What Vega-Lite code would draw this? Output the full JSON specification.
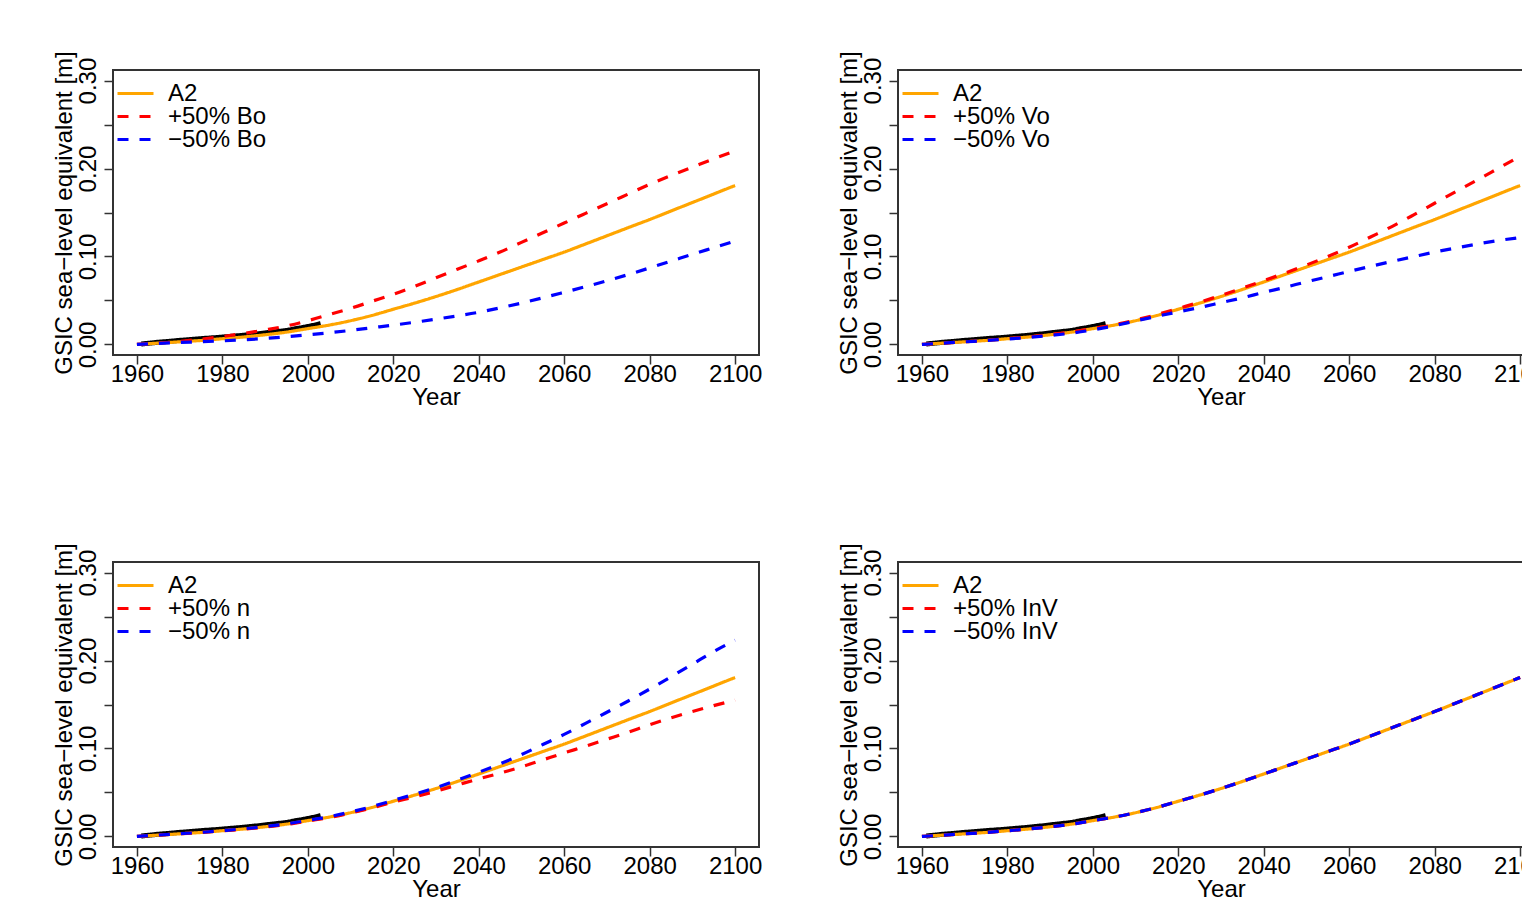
{
  "$schema": "https://vega.github.io/schema/vega-lite/v6.json",
  "background": "white",
  "padding": {"left": 50, "top": 49, "right": 0, "bottom": 0},
  "datasets": {
    "obs": [
      {"year": 1961, "v": 0.0005}, {"year": 1963, "v": 0.0015}, {"year": 1965, "v": 0.0025}, {"year": 1967, "v": 0.0033},
      {"year": 1969, "v": 0.0042}, {"year": 1971, "v": 0.005}, {"year": 1973, "v": 0.0058}, {"year": 1975, "v": 0.0066},
      {"year": 1977, "v": 0.0073}, {"year": 1979, "v": 0.008}, {"year": 1981, "v": 0.0088}, {"year": 1983, "v": 0.0096},
      {"year": 1985, "v": 0.0105}, {"year": 1987, "v": 0.0115}, {"year": 1989, "v": 0.0125}, {"year": 1991, "v": 0.0137},
      {"year": 1993, "v": 0.0148}, {"year": 1995, "v": 0.016}, {"year": 1997, "v": 0.0178}, {"year": 1999, "v": 0.0195},
      {"year": 2001, "v": 0.0215}, {"year": 2003, "v": 0.0237}
    ],
    "a2": [
      {"year": 1960, "v": 0, "s": "A2"}, {"year": 1965, "v": 0.0015, "s": "A2"}, {"year": 1970, "v": 0.003, "s": "A2"},
      {"year": 1975, "v": 0.0045, "s": "A2"}, {"year": 1980, "v": 0.0065, "s": "A2"}, {"year": 1985, "v": 0.0085, "s": "A2"},
      {"year": 1990, "v": 0.011, "s": "A2"}, {"year": 1995, "v": 0.014, "s": "A2"}, {"year": 2000, "v": 0.018, "s": "A2"},
      {"year": 2005, "v": 0.022, "s": "A2"}, {"year": 2010, "v": 0.027, "s": "A2"}, {"year": 2015, "v": 0.033, "s": "A2"},
      {"year": 2020, "v": 0.04, "s": "A2"}, {"year": 2025, "v": 0.047, "s": "A2"}, {"year": 2030, "v": 0.0545, "s": "A2"},
      {"year": 2035, "v": 0.0625, "s": "A2"}, {"year": 2040, "v": 0.071, "s": "A2"}, {"year": 2045, "v": 0.0795, "s": "A2"},
      {"year": 2050, "v": 0.088, "s": "A2"}, {"year": 2055, "v": 0.0965, "s": "A2"}, {"year": 2060, "v": 0.105, "s": "A2"},
      {"year": 2065, "v": 0.1142, "s": "A2"}, {"year": 2070, "v": 0.1235, "s": "A2"}, {"year": 2075, "v": 0.1328, "s": "A2"},
      {"year": 2080, "v": 0.142, "s": "A2"}, {"year": 2085, "v": 0.1517, "s": "A2"}, {"year": 2090, "v": 0.1613, "s": "A2"},
      {"year": 2095, "v": 0.171, "s": "A2"}, {"year": 2100, "v": 0.1807, "s": "A2"}
    ],
    "bo": [
      {"year": 1960, "v": 0, "s": "+50% Bo"}, {"year": 1965, "v": 0.0015, "s": "+50% Bo"}, {"year": 1970, "v": 0.0035, "s": "+50% Bo"},
      {"year": 1975, "v": 0.006, "s": "+50% Bo"}, {"year": 1980, "v": 0.009, "s": "+50% Bo"}, {"year": 1985, "v": 0.0125, "s": "+50% Bo"},
      {"year": 1990, "v": 0.0165, "s": "+50% Bo"}, {"year": 1995, "v": 0.021, "s": "+50% Bo"}, {"year": 2000, "v": 0.027, "s": "+50% Bo"},
      {"year": 2005, "v": 0.034, "s": "+50% Bo"}, {"year": 2010, "v": 0.041, "s": "+50% Bo"}, {"year": 2015, "v": 0.049, "s": "+50% Bo"},
      {"year": 2020, "v": 0.057, "s": "+50% Bo"}, {"year": 2025, "v": 0.066, "s": "+50% Bo"}, {"year": 2030, "v": 0.0757, "s": "+50% Bo"},
      {"year": 2035, "v": 0.0855, "s": "+50% Bo"}, {"year": 2040, "v": 0.095, "s": "+50% Bo"}, {"year": 2045, "v": 0.105, "s": "+50% Bo"},
      {"year": 2050, "v": 0.116, "s": "+50% Bo"}, {"year": 2055, "v": 0.127, "s": "+50% Bo"}, {"year": 2060, "v": 0.138, "s": "+50% Bo"},
      {"year": 2065, "v": 0.149, "s": "+50% Bo"}, {"year": 2070, "v": 0.16, "s": "+50% Bo"}, {"year": 2075, "v": 0.171, "s": "+50% Bo"},
      {"year": 2080, "v": 0.182, "s": "+50% Bo"}, {"year": 2085, "v": 0.192, "s": "+50% Bo"}, {"year": 2090, "v": 0.2015, "s": "+50% Bo"},
      {"year": 2095, "v": 0.211, "s": "+50% Bo"}, {"year": 2100, "v": 0.22, "s": "+50% Bo"},
      {"year": 1960, "v": 0, "s": "−50% Bo"}, {"year": 1965, "v": 0.0012, "s": "−50% Bo"}, {"year": 1970, "v": 0.0022, "s": "−50% Bo"},
      {"year": 1975, "v": 0.0031, "s": "−50% Bo"}, {"year": 1980, "v": 0.0041, "s": "−50% Bo"}, {"year": 1985, "v": 0.0053, "s": "−50% Bo"},
      {"year": 1990, "v": 0.0068, "s": "−50% Bo"}, {"year": 1995, "v": 0.0088, "s": "−50% Bo"}, {"year": 2000, "v": 0.011, "s": "−50% Bo"},
      {"year": 2005, "v": 0.0133, "s": "−50% Bo"}, {"year": 2010, "v": 0.016, "s": "−50% Bo"}, {"year": 2015, "v": 0.019, "s": "−50% Bo"},
      {"year": 2020, "v": 0.022, "s": "−50% Bo"}, {"year": 2025, "v": 0.0252, "s": "−50% Bo"}, {"year": 2030, "v": 0.0287, "s": "−50% Bo"},
      {"year": 2035, "v": 0.0325, "s": "−50% Bo"}, {"year": 2040, "v": 0.0366, "s": "−50% Bo"}, {"year": 2045, "v": 0.0416, "s": "−50% Bo"},
      {"year": 2050, "v": 0.047, "s": "−50% Bo"}, {"year": 2055, "v": 0.053, "s": "−50% Bo"}, {"year": 2060, "v": 0.0593, "s": "−50% Bo"},
      {"year": 2065, "v": 0.0657, "s": "−50% Bo"}, {"year": 2070, "v": 0.0724, "s": "−50% Bo"}, {"year": 2075, "v": 0.0795, "s": "−50% Bo"},
      {"year": 2080, "v": 0.087, "s": "−50% Bo"}, {"year": 2085, "v": 0.0947, "s": "−50% Bo"}, {"year": 2090, "v": 0.1025, "s": "−50% Bo"},
      {"year": 2095, "v": 0.11, "s": "−50% Bo"}, {"year": 2100, "v": 0.1175, "s": "−50% Bo"}
    ],
    "vo": [
      {"year": 1960, "v": 0, "s": "+50% Vo"}, {"year": 1965, "v": 0.0015, "s": "+50% Vo"}, {"year": 1970, "v": 0.003, "s": "+50% Vo"},
      {"year": 1975, "v": 0.0046, "s": "+50% Vo"}, {"year": 1980, "v": 0.0066, "s": "+50% Vo"}, {"year": 1985, "v": 0.0087, "s": "+50% Vo"},
      {"year": 1990, "v": 0.0112, "s": "+50% Vo"}, {"year": 1995, "v": 0.0142, "s": "+50% Vo"}, {"year": 2000, "v": 0.0182, "s": "+50% Vo"},
      {"year": 2005, "v": 0.0223, "s": "+50% Vo"}, {"year": 2010, "v": 0.0278, "s": "+50% Vo"}, {"year": 2015, "v": 0.034, "s": "+50% Vo"},
      {"year": 2020, "v": 0.041, "s": "+50% Vo"}, {"year": 2025, "v": 0.048, "s": "+50% Vo"}, {"year": 2030, "v": 0.0558, "s": "+50% Vo"},
      {"year": 2035, "v": 0.064, "s": "+50% Vo"}, {"year": 2040, "v": 0.0725, "s": "+50% Vo"}, {"year": 2045, "v": 0.0812, "s": "+50% Vo"},
      {"year": 2050, "v": 0.0903, "s": "+50% Vo"}, {"year": 2055, "v": 0.1, "s": "+50% Vo"}, {"year": 2060, "v": 0.1105, "s": "+50% Vo"},
      {"year": 2065, "v": 0.1222, "s": "+50% Vo"}, {"year": 2070, "v": 0.134, "s": "+50% Vo"}, {"year": 2075, "v": 0.147, "s": "+50% Vo"},
      {"year": 2080, "v": 0.1605, "s": "+50% Vo"}, {"year": 2085, "v": 0.1738, "s": "+50% Vo"}, {"year": 2090, "v": 0.187, "s": "+50% Vo"},
      {"year": 2095, "v": 0.2005, "s": "+50% Vo"}, {"year": 2100, "v": 0.214, "s": "+50% Vo"},
      {"year": 1960, "v": 0, "s": "−50% Vo"}, {"year": 1965, "v": 0.0015, "s": "−50% Vo"}, {"year": 1970, "v": 0.003, "s": "−50% Vo"},
      {"year": 1975, "v": 0.0044, "s": "−50% Vo"}, {"year": 1980, "v": 0.0062, "s": "−50% Vo"}, {"year": 1985, "v": 0.008, "s": "−50% Vo"},
      {"year": 1990, "v": 0.0103, "s": "−50% Vo"}, {"year": 1995, "v": 0.0128, "s": "−50% Vo"}, {"year": 2000, "v": 0.0165, "s": "−50% Vo"},
      {"year": 2005, "v": 0.0212, "s": "−50% Vo"}, {"year": 2010, "v": 0.0267, "s": "−50% Vo"}, {"year": 2015, "v": 0.032, "s": "−50% Vo"},
      {"year": 2020, "v": 0.037, "s": "−50% Vo"}, {"year": 2025, "v": 0.042, "s": "−50% Vo"}, {"year": 2030, "v": 0.0475, "s": "−50% Vo"},
      {"year": 2035, "v": 0.053, "s": "−50% Vo"}, {"year": 2040, "v": 0.0592, "s": "−50% Vo"}, {"year": 2045, "v": 0.065, "s": "−50% Vo"},
      {"year": 2050, "v": 0.0712, "s": "−50% Vo"}, {"year": 2055, "v": 0.077, "s": "−50% Vo"}, {"year": 2060, "v": 0.083, "s": "−50% Vo"},
      {"year": 2065, "v": 0.0888, "s": "−50% Vo"}, {"year": 2070, "v": 0.0943, "s": "−50% Vo"}, {"year": 2075, "v": 0.0997, "s": "−50% Vo"},
      {"year": 2080, "v": 0.105, "s": "−50% Vo"}, {"year": 2085, "v": 0.1097, "s": "−50% Vo"}, {"year": 2090, "v": 0.1142, "s": "−50% Vo"},
      {"year": 2095, "v": 0.1182, "s": "−50% Vo"}, {"year": 2100, "v": 0.1215, "s": "−50% Vo"}
    ],
    "n": [
      {"year": 1960, "v": 0, "s": "+50% n"}, {"year": 1965, "v": 0.0015, "s": "+50% n"}, {"year": 1970, "v": 0.003, "s": "+50% n"},
      {"year": 1975, "v": 0.0045, "s": "+50% n"}, {"year": 1980, "v": 0.0064, "s": "+50% n"}, {"year": 1985, "v": 0.0083, "s": "+50% n"},
      {"year": 1990, "v": 0.0107, "s": "+50% n"}, {"year": 1995, "v": 0.0136, "s": "+50% n"}, {"year": 2000, "v": 0.0175, "s": "+50% n"},
      {"year": 2005, "v": 0.0215, "s": "+50% n"}, {"year": 2010, "v": 0.0265, "s": "+50% n"}, {"year": 2015, "v": 0.0325, "s": "+50% n"},
      {"year": 2020, "v": 0.039, "s": "+50% n"}, {"year": 2025, "v": 0.045, "s": "+50% n"}, {"year": 2030, "v": 0.0515, "s": "+50% n"},
      {"year": 2035, "v": 0.0585, "s": "+50% n"}, {"year": 2040, "v": 0.0655, "s": "+50% n"}, {"year": 2045, "v": 0.072, "s": "+50% n"},
      {"year": 2050, "v": 0.079, "s": "+50% n"}, {"year": 2055, "v": 0.087, "s": "+50% n"}, {"year": 2060, "v": 0.095, "s": "+50% n"},
      {"year": 2065, "v": 0.1025, "s": "+50% n"}, {"year": 2070, "v": 0.1105, "s": "+50% n"}, {"year": 2075, "v": 0.1185, "s": "+50% n"},
      {"year": 2080, "v": 0.127, "s": "+50% n"}, {"year": 2085, "v": 0.1348, "s": "+50% n"}, {"year": 2090, "v": 0.142, "s": "+50% n"},
      {"year": 2095, "v": 0.1487, "s": "+50% n"}, {"year": 2100, "v": 0.155, "s": "+50% n"},
      {"year": 1960, "v": 0, "s": "−50% n"}, {"year": 1965, "v": 0.0016, "s": "−50% n"}, {"year": 1970, "v": 0.0031, "s": "−50% n"},
      {"year": 1975, "v": 0.0046, "s": "−50% n"}, {"year": 1980, "v": 0.0066, "s": "−50% n"}, {"year": 1985, "v": 0.0087, "s": "−50% n"},
      {"year": 1990, "v": 0.0113, "s": "−50% n"}, {"year": 1995, "v": 0.0143, "s": "−50% n"}, {"year": 2000, "v": 0.0183, "s": "−50% n"},
      {"year": 2005, "v": 0.0225, "s": "−50% n"}, {"year": 2010, "v": 0.0278, "s": "−50% n"}, {"year": 2015, "v": 0.034, "s": "−50% n"},
      {"year": 2020, "v": 0.041, "s": "−50% n"}, {"year": 2025, "v": 0.048, "s": "−50% n"}, {"year": 2030, "v": 0.0555, "s": "−50% n"},
      {"year": 2035, "v": 0.064, "s": "−50% n"}, {"year": 2040, "v": 0.073, "s": "−50% n"}, {"year": 2045, "v": 0.0825, "s": "−50% n"},
      {"year": 2050, "v": 0.093, "s": "−50% n"}, {"year": 2055, "v": 0.1045, "s": "−50% n"}, {"year": 2060, "v": 0.116, "s": "−50% n"},
      {"year": 2065, "v": 0.1285, "s": "−50% n"}, {"year": 2070, "v": 0.1412, "s": "−50% n"}, {"year": 2075, "v": 0.154, "s": "−50% n"},
      {"year": 2080, "v": 0.1675, "s": "−50% n"}, {"year": 2085, "v": 0.1815, "s": "−50% n"}, {"year": 2090, "v": 0.1958, "s": "−50% n"},
      {"year": 2095, "v": 0.2102, "s": "−50% n"}, {"year": 2100, "v": 0.223, "s": "−50% n"}
    ],
    "inv": [
      {"year": 1960, "v": 0, "s": "+50% InV"}, {"year": 1965, "v": 0.0015, "s": "+50% InV"}, {"year": 1970, "v": 0.003, "s": "+50% InV"},
      {"year": 1975, "v": 0.0045, "s": "+50% InV"}, {"year": 1980, "v": 0.0065, "s": "+50% InV"}, {"year": 1985, "v": 0.0085, "s": "+50% InV"},
      {"year": 1990, "v": 0.011, "s": "+50% InV"}, {"year": 1995, "v": 0.014, "s": "+50% InV"}, {"year": 2000, "v": 0.018, "s": "+50% InV"},
      {"year": 2005, "v": 0.022, "s": "+50% InV"}, {"year": 2010, "v": 0.027, "s": "+50% InV"}, {"year": 2015, "v": 0.033, "s": "+50% InV"},
      {"year": 2020, "v": 0.04, "s": "+50% InV"}, {"year": 2025, "v": 0.047, "s": "+50% InV"}, {"year": 2030, "v": 0.0545, "s": "+50% InV"},
      {"year": 2035, "v": 0.0625, "s": "+50% InV"}, {"year": 2040, "v": 0.071, "s": "+50% InV"}, {"year": 2045, "v": 0.0795, "s": "+50% InV"},
      {"year": 2050, "v": 0.088, "s": "+50% InV"}, {"year": 2055, "v": 0.0965, "s": "+50% InV"}, {"year": 2060, "v": 0.105, "s": "+50% InV"},
      {"year": 2065, "v": 0.1142, "s": "+50% InV"}, {"year": 2070, "v": 0.1235, "s": "+50% InV"}, {"year": 2075, "v": 0.1328, "s": "+50% InV"},
      {"year": 2080, "v": 0.142, "s": "+50% InV"}, {"year": 2085, "v": 0.1517, "s": "+50% InV"}, {"year": 2090, "v": 0.1613, "s": "+50% InV"},
      {"year": 2095, "v": 0.171, "s": "+50% InV"}, {"year": 2100, "v": 0.1807, "s": "+50% InV"},
      {"year": 1960, "v": 0, "s": "−50% InV"}, {"year": 1965, "v": 0.0015, "s": "−50% InV"}, {"year": 1970, "v": 0.003, "s": "−50% InV"},
      {"year": 1975, "v": 0.0045, "s": "−50% InV"}, {"year": 1980, "v": 0.0065, "s": "−50% InV"}, {"year": 1985, "v": 0.0085, "s": "−50% InV"},
      {"year": 1990, "v": 0.011, "s": "−50% InV"}, {"year": 1995, "v": 0.014, "s": "−50% InV"}, {"year": 2000, "v": 0.018, "s": "−50% InV"},
      {"year": 2005, "v": 0.022, "s": "−50% InV"}, {"year": 2010, "v": 0.027, "s": "−50% InV"}, {"year": 2015, "v": 0.033, "s": "−50% InV"},
      {"year": 2020, "v": 0.04, "s": "−50% InV"}, {"year": 2025, "v": 0.047, "s": "−50% InV"}, {"year": 2030, "v": 0.0545, "s": "−50% InV"},
      {"year": 2035, "v": 0.0625, "s": "−50% InV"}, {"year": 2040, "v": 0.071, "s": "−50% InV"}, {"year": 2045, "v": 0.0795, "s": "−50% InV"},
      {"year": 2050, "v": 0.088, "s": "−50% InV"}, {"year": 2055, "v": 0.0965, "s": "−50% InV"}, {"year": 2060, "v": 0.105, "s": "−50% InV"},
      {"year": 2065, "v": 0.1142, "s": "−50% InV"}, {"year": 2070, "v": 0.1235, "s": "−50% InV"}, {"year": 2075, "v": 0.1328, "s": "−50% InV"},
      {"year": 2080, "v": 0.142, "s": "−50% InV"}, {"year": 2085, "v": 0.1517, "s": "−50% InV"}, {"year": 2090, "v": 0.1613, "s": "−50% InV"},
      {"year": 2095, "v": 0.171, "s": "−50% InV"}, {"year": 2100, "v": 0.1807, "s": "−50% InV"}
    ]
  },
  "columns": 2,
  "spacing": {"row": 207, "column": 139},
  "bounds": "flush",
  "resolve": {"scale": {"color": "independent", "strokeDash": "independent", "x": "independent", "y": "independent"}},
  "concat": [
    {
      "width": 646, "height": 285,
      "encoding": {
        "x": {"field": "year", "type": "quantitative", "scale": {"domain": [1954.4, 2105.6], "nice": false, "zero": false},
              "axis": {"title": "Year", "values": [1960, 1980, 2000, 2020, 2040, 2060, 2080, 2100], "format": "d", "labelPadding": -2, "titlePadding": -1}},
        "y": {"field": "v", "type": "quantitative", "scale": {"domain": [-0.012, 0.312], "nice": false, "zero": false},
              "axis": {"title": "GSIC sea−level equivalent [m]", "values": [0, 0.05, 0.1, 0.15, 0.2, 0.25, 0.3],
                       "labelExpr": "round(datum.value*100) % 10 == 0 ? format(datum.value, '.2f') : ''",
                       "labelAngle": -90, "labelAlign": "center", "labelBaseline": "alphabetic", "labelPadding": 9, "titlePadding": 0}},
        "color": {"field": "s", "type": "nominal", "scale": {"domain": ["A2", "+50% Bo", "−50% Bo"], "range": ["#FFA500", "#FF0000", "#0000FF"]},
                  "legend": {"orient": "none", "legendX": 3, "legendY": 13, "title": null, "direction": "vertical", "symbolType": "stroke", "symbolSize": 1296, "symbolStrokeWidth": 3, "labelFontSize": 24, "labelColor": "#000", "labelOffset": 13, "clipHeight": 21, "rowPadding": -2.5, "padding": 0, "labelLimit": 400}},
        "strokeDash": {"field": "s", "type": "nominal", "scale": {"domain": ["A2", "+50% Bo", "−50% Bo"], "range": [[1, 0], [11, 11], [11, 11]]},
                  "legend": {"orient": "none", "legendX": 3, "legendY": 13, "title": null, "direction": "vertical", "symbolType": "stroke", "symbolSize": 1296, "symbolStrokeWidth": 3, "labelFontSize": 24, "labelColor": "#000", "labelOffset": 13, "clipHeight": 21, "rowPadding": -2.5, "padding": 0, "labelLimit": 400}}
      },
      "layer": [
        {"data": {"name": "obs"}, "mark": {"type": "line", "strokeWidth": 5, "interpolate": "monotone"}, "encoding": {"color": {"value": "black"}, "strokeDash": {"value": [1, 0]}}},
        {"data": {"name": "a2"}, "mark": {"type": "line", "strokeWidth": 3.2, "interpolate": "monotone"}},
        {"data": {"name": "bo"}, "transform": [{"filter": "datum.s == '+50% Bo'"}], "mark": {"type": "line", "strokeWidth": 3.2, "interpolate": "monotone"}},
        {"data": {"name": "bo"}, "transform": [{"filter": "datum.s == '−50% Bo'"}], "mark": {"type": "line", "strokeWidth": 3.2, "interpolate": "monotone"}}
      ]
    },
    {
      "width": 646, "height": 285,
      "encoding": {
        "x": {"field": "year", "type": "quantitative", "scale": {"domain": [1954.4, 2105.6], "nice": false, "zero": false},
              "axis": {"title": "Year", "values": [1960, 1980, 2000, 2020, 2040, 2060, 2080, 2100], "format": "d", "labelPadding": -2, "titlePadding": -1}},
        "y": {"field": "v", "type": "quantitative", "scale": {"domain": [-0.012, 0.312], "nice": false, "zero": false},
              "axis": {"title": "GSIC sea−level equivalent [m]", "values": [0, 0.05, 0.1, 0.15, 0.2, 0.25, 0.3],
                       "labelExpr": "round(datum.value*100) % 10 == 0 ? format(datum.value, '.2f') : ''",
                       "labelAngle": -90, "labelAlign": "center", "labelBaseline": "alphabetic", "labelPadding": 9, "titlePadding": 0}},
        "color": {"field": "s", "type": "nominal", "scale": {"domain": ["A2", "+50% Vo", "−50% Vo"], "range": ["#FFA500", "#FF0000", "#0000FF"]},
                  "legend": {"orient": "none", "legendX": 3, "legendY": 13, "title": null, "direction": "vertical", "symbolType": "stroke", "symbolSize": 1296, "symbolStrokeWidth": 3, "labelFontSize": 24, "labelColor": "#000", "labelOffset": 13, "clipHeight": 21, "rowPadding": -2.5, "padding": 0, "labelLimit": 400}},
        "strokeDash": {"field": "s", "type": "nominal", "scale": {"domain": ["A2", "+50% Vo", "−50% Vo"], "range": [[1, 0], [11, 11], [11, 11]]},
                  "legend": {"orient": "none", "legendX": 3, "legendY": 13, "title": null, "direction": "vertical", "symbolType": "stroke", "symbolSize": 1296, "symbolStrokeWidth": 3, "labelFontSize": 24, "labelColor": "#000", "labelOffset": 13, "clipHeight": 21, "rowPadding": -2.5, "padding": 0, "labelLimit": 400}}
      },
      "layer": [
        {"data": {"name": "obs"}, "mark": {"type": "line", "strokeWidth": 5, "interpolate": "monotone"}, "encoding": {"color": {"value": "black"}, "strokeDash": {"value": [1, 0]}}},
        {"data": {"name": "a2"}, "mark": {"type": "line", "strokeWidth": 3.2, "interpolate": "monotone"}},
        {"data": {"name": "vo"}, "transform": [{"filter": "datum.s == '+50% Vo'"}], "mark": {"type": "line", "strokeWidth": 3.2, "interpolate": "monotone"}},
        {"data": {"name": "vo"}, "transform": [{"filter": "datum.s == '−50% Vo'"}], "mark": {"type": "line", "strokeWidth": 3.2, "interpolate": "monotone"}}
      ]
    },
    {
      "width": 646, "height": 285,
      "encoding": {
        "x": {"field": "year", "type": "quantitative", "scale": {"domain": [1954.4, 2105.6], "nice": false, "zero": false},
              "axis": {"title": "Year", "values": [1960, 1980, 2000, 2020, 2040, 2060, 2080, 2100], "format": "d", "labelPadding": -2, "titlePadding": -1}},
        "y": {"field": "v", "type": "quantitative", "scale": {"domain": [-0.012, 0.312], "nice": false, "zero": false},
              "axis": {"title": "GSIC sea−level equivalent [m]", "values": [0, 0.05, 0.1, 0.15, 0.2, 0.25, 0.3],
                       "labelExpr": "round(datum.value*100) % 10 == 0 ? format(datum.value, '.2f') : ''",
                       "labelAngle": -90, "labelAlign": "center", "labelBaseline": "alphabetic", "labelPadding": 9, "titlePadding": 0}},
        "color": {"field": "s", "type": "nominal", "scale": {"domain": ["A2", "+50% n", "−50% n"], "range": ["#FFA500", "#FF0000", "#0000FF"]},
                  "legend": {"orient": "none", "legendX": 3, "legendY": 13, "title": null, "direction": "vertical", "symbolType": "stroke", "symbolSize": 1296, "symbolStrokeWidth": 3, "labelFontSize": 24, "labelColor": "#000", "labelOffset": 13, "clipHeight": 21, "rowPadding": -2.5, "padding": 0, "labelLimit": 400}},
        "strokeDash": {"field": "s", "type": "nominal", "scale": {"domain": ["A2", "+50% n", "−50% n"], "range": [[1, 0], [11, 11], [11, 11]]},
                  "legend": {"orient": "none", "legendX": 3, "legendY": 13, "title": null, "direction": "vertical", "symbolType": "stroke", "symbolSize": 1296, "symbolStrokeWidth": 3, "labelFontSize": 24, "labelColor": "#000", "labelOffset": 13, "clipHeight": 21, "rowPadding": -2.5, "padding": 0, "labelLimit": 400}}
      },
      "layer": [
        {"data": {"name": "obs"}, "mark": {"type": "line", "strokeWidth": 5, "interpolate": "monotone"}, "encoding": {"color": {"value": "black"}, "strokeDash": {"value": [1, 0]}}},
        {"data": {"name": "a2"}, "mark": {"type": "line", "strokeWidth": 3.2, "interpolate": "monotone"}},
        {"data": {"name": "n"}, "transform": [{"filter": "datum.s == '+50% n'"}], "mark": {"type": "line", "strokeWidth": 3.2, "interpolate": "monotone"}},
        {"data": {"name": "n"}, "transform": [{"filter": "datum.s == '−50% n'"}], "mark": {"type": "line", "strokeWidth": 3.2, "interpolate": "monotone"}}
      ]
    },
    {
      "width": 646, "height": 285,
      "encoding": {
        "x": {"field": "year", "type": "quantitative", "scale": {"domain": [1954.4, 2105.6], "nice": false, "zero": false},
              "axis": {"title": "Year", "values": [1960, 1980, 2000, 2020, 2040, 2060, 2080, 2100], "format": "d", "labelPadding": -2, "titlePadding": -1}},
        "y": {"field": "v", "type": "quantitative", "scale": {"domain": [-0.012, 0.312], "nice": false, "zero": false},
              "axis": {"title": "GSIC sea−level equivalent [m]", "values": [0, 0.05, 0.1, 0.15, 0.2, 0.25, 0.3],
                       "labelExpr": "round(datum.value*100) % 10 == 0 ? format(datum.value, '.2f') : ''",
                       "labelAngle": -90, "labelAlign": "center", "labelBaseline": "alphabetic", "labelPadding": 9, "titlePadding": 0}},
        "color": {"field": "s", "type": "nominal", "scale": {"domain": ["A2", "+50% InV", "−50% InV"], "range": ["#FFA500", "#FF0000", "#0000FF"]},
                  "legend": {"orient": "none", "legendX": 3, "legendY": 13, "title": null, "direction": "vertical", "symbolType": "stroke", "symbolSize": 1296, "symbolStrokeWidth": 3, "labelFontSize": 24, "labelColor": "#000", "labelOffset": 13, "clipHeight": 21, "rowPadding": -2.5, "padding": 0, "labelLimit": 400}},
        "strokeDash": {"field": "s", "type": "nominal", "scale": {"domain": ["A2", "+50% InV", "−50% InV"], "range": [[1, 0], [11, 11], [11, 11]]},
                  "legend": {"orient": "none", "legendX": 3, "legendY": 13, "title": null, "direction": "vertical", "symbolType": "stroke", "symbolSize": 1296, "symbolStrokeWidth": 3, "labelFontSize": 24, "labelColor": "#000", "labelOffset": 13, "clipHeight": 21, "rowPadding": -2.5, "padding": 0, "labelLimit": 400}}
      },
      "layer": [
        {"data": {"name": "obs"}, "mark": {"type": "line", "strokeWidth": 5, "interpolate": "monotone"}, "encoding": {"color": {"value": "black"}, "strokeDash": {"value": [1, 0]}}},
        {"data": {"name": "a2"}, "mark": {"type": "line", "strokeWidth": 3.2, "interpolate": "monotone"}},
        {"data": {"name": "inv"}, "transform": [{"filter": "datum.s == '+50% InV'"}], "mark": {"type": "line", "strokeWidth": 3.2, "interpolate": "monotone"}},
        {"data": {"name": "inv"}, "transform": [{"filter": "datum.s == '−50% InV'"}], "mark": {"type": "line", "strokeWidth": 3.2, "interpolate": "monotone"}}
      ]
    }
  ],
  "config": {
    "font": "Liberation Sans",
    "view": {"stroke": "#333333", "strokeWidth": 2},
    "axis": {"domain": false, "grid": false, "labelFont": "Liberation Sans", "titleFont": "Liberation Sans", "labelFontSize": 24, "titleFontSize": 24,
             "labelColor": "#000000", "titleColor": "#000000", "titleFontWeight": "normal", "tickColor": "#333333", "tickWidth": 1.5, "tickSize": 9,
             "labelOverlap": false, "labelFlush": false},
    "legend": {"labelFont": "Liberation Sans"},
    "line": {"strokeCap": "butt"}
  }
}
